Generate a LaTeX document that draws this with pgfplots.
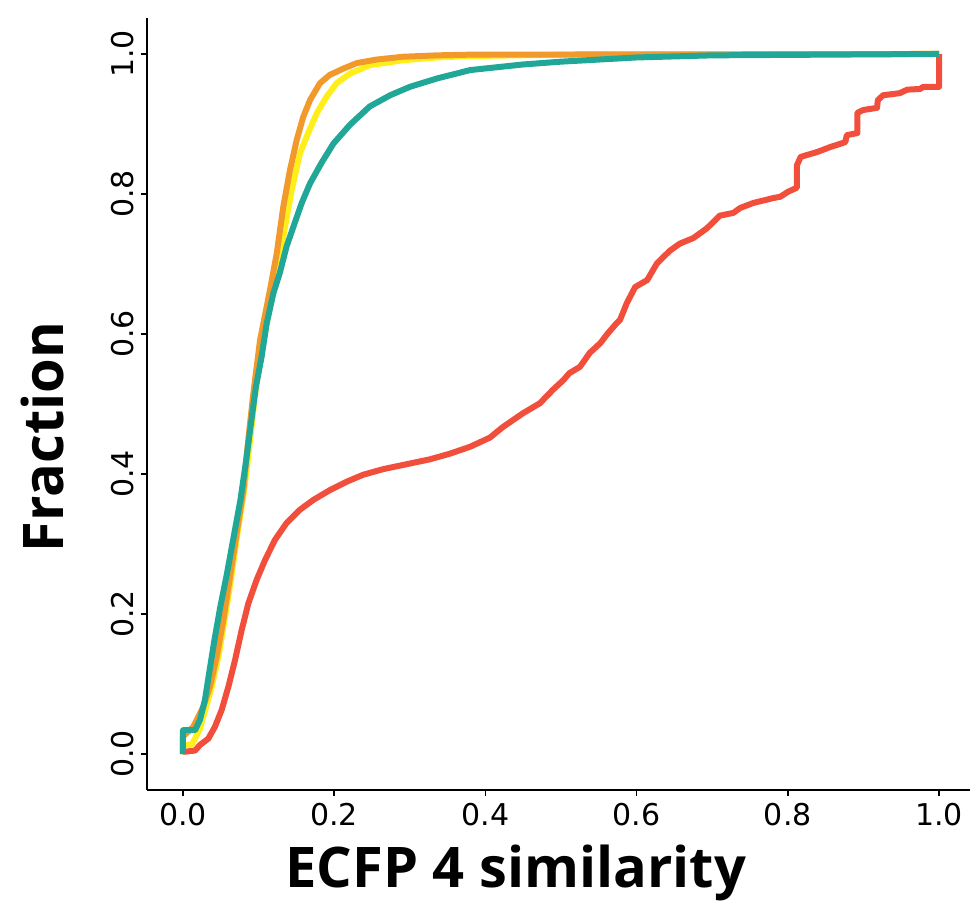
\documentclass[border=0pt]{standalone}
\usepackage{fontspec}
\usepackage{pgfplots}
\pgfplotsset{compat=1.18}
\newfontfamily\tickfont{DejaVu Sans}
\newfontfamily\labfont{Open Sans}
\definecolor{cteal}{HTML}{21A797}
\definecolor{corange}{HTML}{F2992B}
\definecolor{cyellow}{HTML}{FFEE1A}
\definecolor{cred}{HTML}{F24E3C}

\begin{document}
\begin{tikzpicture}
\begin{axis}[
    scale only axis,
    width=411.5pt, height=386pt,
    xmin=-0.0476, xmax=1.041,
    ymin=-0.0514, ymax=1.0514,
    axis x line=bottom, axis y line=left,
    axis line style={-, line width=1.2pt, black},
    xtick={0,0.2,0.4,0.6,0.8,1.0},
    ytick={0,0.2,0.4,0.6,0.8,1.0},
    tick align=outside,
    major tick length=3pt,
    tick style={line width=0.8pt, black},
    /pgf/number format/.cd, fixed, fixed zerofill, precision=1, assume math mode=true,
    /pgfplots/.cd,
    ticklabel style={font=\tickfont\fontsize{15}{17}\selectfont},
    yticklabel style={rotate=90, anchor=south},
    xlabel={ECFP 4 similarity},
    ylabel={Fraction},
    label style={font=\labfont\bfseries\fontsize{28}{32}\selectfont},
    xlabel style={at={(axis description cs:0.448,0)}, anchor=north, yshift=-24pt},
    ylabel style={at={(axis description cs:0,0.457)}, anchor=south, yshift=38pt},
    clip=false,
    every axis plot/.append style={line width=3pt, line join=round},
]
% red
\addplot[color=cred] coordinates {
(0,0.003) (0.016,0.005) (0.0225,0.013) (0.0335,0.022) (0.0423,0.039)
(0.0512,0.063) (0.060,0.096) (0.0688,0.134) (0.0776,0.177) (0.0864,0.215)
(0.0975,0.249) (0.1085,0.277) (0.1217,0.306) (0.137,0.330) (0.1548,0.349)
(0.1724,0.363) (0.1944,0.377) (0.2165,0.389) (0.2385,0.399) (0.265,0.407)
(0.2915,0.413) (0.3267,0.421) (0.353,0.429) (0.380,0.439) (0.406,0.452)
(0.423,0.467) (0.450,0.487) (0.472,0.501) (0.489,0.520) (0.503,0.534)
(0.511,0.544) (0.525,0.553) (0.538,0.573) (0.552,0.587) (0.562,0.601)
(0.574,0.616) (0.578,0.620) (0.587,0.644) (0.598,0.667) (0.614,0.677)
(0.627,0.701) (0.644,0.719) (0.657,0.729) (0.675,0.737) (0.693,0.751)
(0.710,0.769) (0.728,0.773) (0.737,0.780) (0.754,0.787) (0.780,0.794)
(0.790,0.796) (0.800,0.803) (0.812,0.809) (0.812,0.841) (0.817,0.853)
(0.839,0.860) (0.856,0.867) (0.876,0.874) (0.878,0.884) (0.892,0.887)
(0.892,0.916) (0.900,0.920) (0.918,0.923) (0.919,0.934) (0.926,0.941)
(0.948,0.944) (0.958,0.949) (0.975,0.950) (0.979,0.953) (1.0,0.953) (1.0,1.0)
};
% yellow
\addplot[color=cyellow] coordinates {
(0,0) (0,0.012) (0.012,0.014) (0.022,0.035) (0.030,0.065) (0.038,0.096)
(0.047,0.140) (0.055,0.191) (0.064,0.253) (0.072,0.315) (0.081,0.377)
(0.0885,0.445) (0.0955,0.515) (0.1063,0.591) (0.1151,0.639) (0.124,0.687)
(0.135,0.753) (0.1438,0.806) (0.1548,0.858) (0.1636,0.882) (0.1768,0.915)
(0.190,0.939) (0.203,0.958) (0.221,0.972) (0.247,0.984) (0.291,0.991)
(0.336,0.995) (0.380,0.997) (0.5,0.999) (1,1)
};
% orange
\addplot[color=corange] coordinates {
(0,0) (0,0.025) (0.0137,0.039) (0.027,0.068) (0.0357,0.096) (0.0446,0.139)
(0.0533,0.191) (0.0622,0.253) (0.071,0.315) (0.080,0.377) (0.0855,0.440)
(0.0925,0.510) (0.1019,0.591) (0.1151,0.663) (0.124,0.715) (0.1327,0.782)
(0.1415,0.834) (0.1504,0.877) (0.159,0.910) (0.168,0.934) (0.181,0.958)
(0.194,0.970) (0.212,0.979) (0.230,0.987) (0.256,0.992) (0.291,0.996)
(0.336,0.998) (0.380,0.999) (1,1)
};
% teal
\addplot[color=cteal] coordinates {
(0,0) (0,0.034) (0.0159,0.034) (0.0225,0.049) (0.029,0.077) (0.0345,0.115)
(0.0416,0.163) (0.0493,0.210) (0.0582,0.258) (0.067,0.310) (0.076,0.363)
(0.0836,0.420) (0.0905,0.477) (0.0965,0.525) (0.104,0.5676) (0.1107,0.615)
(0.1195,0.658) (0.128,0.687) (0.137,0.725) (0.146,0.753) (0.157,0.787)
(0.168,0.815) (0.183,0.844) (0.199,0.872) (0.221,0.899) (0.247,0.925)
(0.274,0.941) (0.300,0.953) (0.336,0.965) (0.380,0.977) (0.45,0.985)
(0.5,0.989) (0.6,0.995) (0.7,0.998) (0.85,0.999) (1.0,1.0)
};
\coordinate (bl) at (rel axis cs:-0.1786,-0.1386);
\coordinate (tr) at (rel axis cs:1.0036,1.0233);
\end{axis}
\path (bl) (tr);
\end{tikzpicture}
\end{document}
